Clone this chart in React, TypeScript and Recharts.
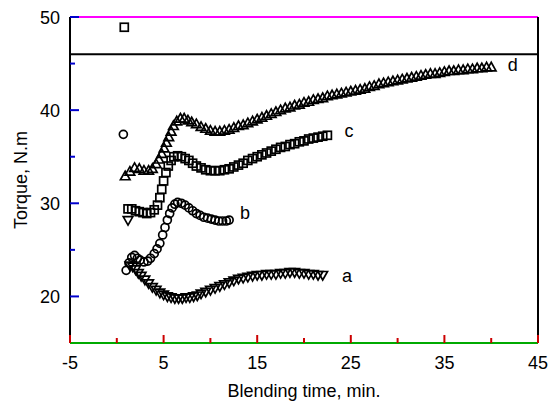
import React from 'react';
import { ScatterChart, Scatter, XAxis, YAxis, ReferenceLine, ReferenceDot } from 'recharts';

// Blending time (min) vs torque (N.m) — four runs a, b, c, d
const seriesA: [number, number][] = [
  [1.2, 28.2],
  [1.4, 23.3], [1.7, 23.2], [2.0, 22.9], [2.3, 22.5], [2.6, 22.2], [3.0, 21.8], [3.4, 21.4], [3.8, 21.0],
  [4.2, 20.7], [4.6, 20.4], [5.0, 20.2], [5.4, 20.0], [5.8, 19.9], [6.2, 19.8], [6.6, 19.8], [7.0, 19.8],
  [7.4, 19.9], [7.8, 19.9], [8.2, 20.0], [8.6, 20.1], [9.0, 20.3], [9.5, 20.5], [10.0, 20.7], [10.5, 20.9],
  [11.0, 21.1], [11.5, 21.3], [12.0, 21.5], [12.5, 21.7], [13.0, 21.9], [13.5, 22.0], [14.0, 22.1],
  [14.5, 22.2], [15.0, 22.3], [15.5, 22.3], [16.0, 22.4], [16.5, 22.4], [17.0, 22.4], [17.5, 22.5],
  [18.0, 22.5], [18.5, 22.6], [19.0, 22.6], [19.5, 22.5], [20.0, 22.5], [20.5, 22.4], [21.0, 22.4],
  [21.5, 22.3], [22.0, 22.3],
];

const seriesB: [number, number][] = [
  [0.7, 37.4],
  [1.0, 22.8], [1.3, 23.6], [1.6, 24.2], [1.9, 24.4], [2.2, 24.1], [2.5, 23.9], [2.9, 23.7], [3.3, 23.8],
  [3.6, 24.1], [4.0, 24.6], [4.3, 25.1], [4.6, 25.7], [4.9, 26.6], [5.15, 27.4], [5.4, 28.2], [5.65, 28.9],
  [5.9, 29.5], [6.2, 29.9], [6.5, 30.1], [6.9, 30.0], [7.3, 29.8], [7.7, 29.5], [8.1, 29.2], [8.5, 28.9],
  [8.9, 28.7], [9.3, 28.5], [9.7, 28.4], [10.1, 28.3], [10.5, 28.2], [10.9, 28.1], [11.3, 28.1],
  [11.7, 28.1], [12.0, 28.2],
];

const seriesC: [number, number][] = [
  [0.8, 48.9],
  [1.2, 29.4], [1.6, 29.4], [2.0, 29.2], [2.4, 29.1], [2.8, 29.0], [3.2, 28.9], [3.6, 29.0], [4.0, 29.3],
  [4.35, 29.8], [4.6, 30.6], [4.8, 31.5], [5.0, 32.4], [5.25, 33.3], [5.5, 34.0], [5.8, 34.6], [6.1, 35.0],
  [6.5, 35.1], [6.9, 35.0], [7.3, 34.8], [7.7, 34.6], [8.1, 34.3], [8.5, 34.0], [9.0, 33.8], [9.5, 33.6],
  [10.0, 33.5], [10.5, 33.5], [11.0, 33.5], [11.5, 33.6], [12.0, 33.7], [12.5, 33.9], [13.0, 34.1],
  [13.5, 34.3], [14.0, 34.6], [14.5, 34.8], [15.0, 35.0], [15.5, 35.2], [16.0, 35.4], [16.5, 35.6],
  [17.0, 35.8], [17.5, 36.0], [18.0, 36.1], [18.5, 36.3], [19.0, 36.4], [19.5, 36.6], [20.0, 36.7],
  [20.5, 36.9], [21.0, 37.0], [21.5, 37.1], [22.0, 37.2], [22.5, 37.3],
];

const seriesD: [number, number][] = [
  [0.9, 32.9], [1.4, 33.4], [1.9, 33.8], [2.4, 33.7], [2.9, 33.5], [3.4, 33.5], [3.8, 33.7], [4.2, 34.2],
  [4.5, 34.7], [4.8, 35.3], [5.05, 35.9], [5.3, 36.5], [5.55, 37.1], [5.8, 37.7], [6.05, 38.3], [6.4, 38.8],
  [6.8, 39.1], [7.2, 39.1], [7.6, 38.9], [8.0, 38.7], [8.5, 38.5], [9.0, 38.2], [9.5, 38.0], [10.0, 37.8],
  [10.5, 37.7], [11.0, 37.7], [11.5, 37.8], [12.0, 37.9], [12.5, 38.1], [13.0, 38.3], [13.5, 38.4],
  [14.0, 38.6], [14.5, 38.8], [15.0, 39.0], [15.5, 39.2], [16.0, 39.4], [16.5, 39.6], [17.0, 39.8],
  [17.5, 40.0], [18.0, 40.2], [18.5, 40.3], [19.0, 40.5], [19.5, 40.6], [20.0, 40.8], [20.5, 40.9],
  [21.0, 41.1], [21.5, 41.2], [22.0, 41.3], [22.5, 41.5], [23.0, 41.6], [23.5, 41.7], [24.0, 41.8],
  [24.5, 41.9], [25.0, 42.0], [25.5, 42.1], [26.0, 42.2], [26.5, 42.3], [27.0, 42.5], [27.5, 42.6],
  [28.0, 42.8], [28.5, 42.9], [29.0, 43.0], [29.5, 43.1], [30.0, 43.2], [30.5, 43.3], [31.0, 43.4],
  [31.5, 43.5], [32.0, 43.6], [32.5, 43.7], [33.0, 43.8], [33.5, 43.9], [34.0, 43.9], [34.5, 44.0],
  [35.0, 44.1], [35.5, 44.2], [36.0, 44.2], [36.5, 44.3], [37.0, 44.3], [37.5, 44.4], [38.0, 44.4],
  [38.5, 44.5], [39.0, 44.5], [39.5, 44.6], [40.0, 44.6],
];

const xTicks = [-5, 0, 5, 10, 15, 20, 25, 30, 35, 40, 45];
const xTickLabels = [-5, 5, 15, 25, 35, 45];
const yTicks = [20, 25, 30, 35, 40, 45, 50];
const yTickLabels = [20, 30, 40, 50];
const xDomain: [number, number] = [-5, 45];
const yDomain: [number, number] = [15, 50];

const curveLabels: { name: string; x: number; y: number }[] = [
  { name: 'a', x: 24.6, y: 22.2 },
  { name: 'b', x: 13.7, y: 29.0 },
  { name: 'c', x: 24.8, y: 37.8 },
  { name: 'd', x: 42.3, y: 44.9 },
];

const FONT = '"Liberation Sans", Arial, Helvetica, sans-serif';
const SW = 1.7;
const INK = '#000';

const toPts = (arr: [number, number][]) => arr.map(([x, y]) => ({ x, y }));

const SquareShape = (p: any) => (
  <rect x={p.cx - 4} y={p.cy - 4} width={8} height={8} fill="none" stroke={INK} strokeWidth={SW} />
);
const CircleShape = (p: any) => (
  <circle cx={p.cx} cy={p.cy} r={4} fill="none" stroke={INK} strokeWidth={SW} />
);
const UpTriShape = (p: any) => (
  <polygon
    points={`${p.cx},${p.cy - 5} ${p.cx - 4.8},${p.cy + 3.5} ${p.cx + 4.8},${p.cy + 3.5}`}
    fill="none"
    stroke={INK}
    strokeWidth={SW}
  />
);
const DownTriShape = (p: any) => (
  <polygon
    points={`${p.cx},${p.cy + 5} ${p.cx - 4.8},${p.cy - 3.5} ${p.cx + 4.8},${p.cy - 3.5}`}
    fill="none"
    stroke={INK}
    strokeWidth={SW}
  />
);

const XTick = (props: any) => {
  const { x, y, payload } = props;
  const v = payload.value;
  const major = xTickLabels.includes(v);
  const len = major ? 8 : 5;
  return (
    <g>
      <path d={`M${x},${y} L${x},${y - len}`} stroke="#c00" strokeWidth={2} fill="none" />
      {major && (
        <text x={x} y={y + 26} textAnchor="middle" fontSize={18} fontFamily={FONT} fill={INK}>
          {String(v)}
        </text>
      )}
    </g>
  );
};

const YTick = (props: any) => {
  const { x, y, payload } = props;
  const v = payload.value;
  const major = yTickLabels.includes(v);
  const len = major ? 9 : 5;
  return (
    <g>
      <path d={`M${x},${y} L${x + len},${y}`} stroke="#00c" strokeWidth={2} fill="none" />
      {major && (
        <text x={x - 10} y={y + 7} textAnchor="end" fontSize={18} fontFamily={FONT} fill={INK}>
          {String(v)}
        </text>
      )}
    </g>
  );
};

const XTitle = (props: any) => {
  const vb = props.viewBox || { x: 70, y: 343, width: 468, height: 58 };
  return (
    <text x={vb.x + vb.width / 2} y={vb.y + 54} textAnchor="middle" fontSize={18} fontFamily={FONT} fill={INK}>
      Blending time, min.
    </text>
  );
};

const YTitle = (props: any) => {
  const vb = props.viewBox || { x: 0, y: 17, width: 70, height: 326 };
  const cx = vb.x + 27;
  const cy = vb.y + vb.height / 2;
  return (
    <text
      x={cx}
      y={cy}
      transform={`rotate(-90, ${cx}, ${cy})`}
      textAnchor="middle"
      fontSize={18}
      fontFamily={FONT}
      fill={INK}
    >
      Torque, N.m
    </text>
  );
};

export default function App() {
  return (
    <div style={{ position: 'absolute', left: 0, top: 0, width: 550, height: 401, background: '#fff' }}>
      <ScatterChart width={550} height={401} margin={{ top: 17, right: 12, bottom: 0, left: 0 }}>
        <XAxis
          type="number"
          dataKey="x"
          domain={xDomain}
          ticks={xTicks}
          interval={0}
          height={58}
          tickSize={0}
          tickMargin={0}
          tickLine={false}
          axisLine={{ stroke: '#0a0', strokeWidth: 2 }}
          tick={<XTick />}
          label={<XTitle />}
        />
        <YAxis
          type="number"
          dataKey="y"
          domain={yDomain}
          ticks={yTicks}
          interval={0}
          width={70}
          tickSize={0}
          tickMargin={0}
          tickLine={false}
          axisLine={{ stroke: INK, strokeWidth: 2 }}
          tick={<YTick />}
          label={<YTitle />}
        />
        <ReferenceLine y={yDomain[1]} stroke="#f0f" strokeWidth={2} ifOverflow="visible" />
        <ReferenceLine x={xDomain[1]} stroke={INK} strokeWidth={2} ifOverflow="visible" />
        <ReferenceLine y={46} stroke={INK} strokeWidth={2} />
        <Scatter data={toPts(seriesA)} shape={DownTriShape} isAnimationActive={false} />
        <Scatter data={toPts(seriesB)} shape={CircleShape} isAnimationActive={false} />
        <Scatter data={toPts(seriesC)} shape={SquareShape} isAnimationActive={false} />
        <Scatter data={toPts(seriesD)} shape={UpTriShape} isAnimationActive={false} />
        {curveLabels.map((l) => (
          <ReferenceDot
            key={l.name}
            x={l.x}
            y={l.y}
            r={1}
            fill="none"
            stroke="none"
            label={{ value: l.name, position: 'center', fontSize: 18, fontFamily: FONT, fill: INK }}
          />
        ))}
      </ScatterChart>
    </div>
  );
}
